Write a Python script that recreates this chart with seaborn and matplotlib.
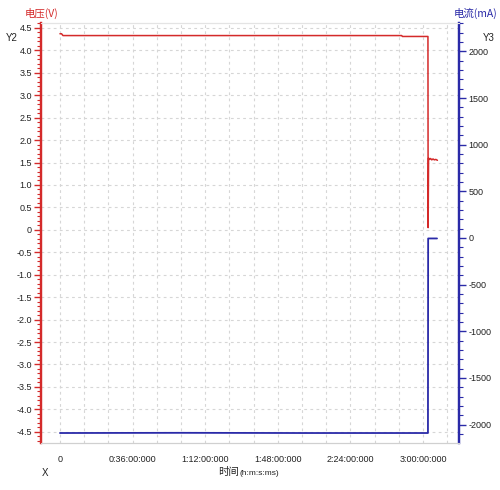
import matplotlib
matplotlib.use("Agg")
import matplotlib.pyplot as plt
import matplotlib.ticker as mticker
import seaborn as sns
import pandas as pd

# ---- data (time in minutes) ----
volt_time = [0, 0.8, 1.5, 169.5, 169.8, 182.5, 182.6, 182.8, 183.3, 183.8, 184.4, 185.0, 185.7, 186.4, 187.2]
volt_vals = [4.37, 4.37, 4.33, 4.33, 4.31, 4.31, 0.05, 1.60, 1.57, 1.59, 1.56, 1.58, 1.56, 1.57, 1.55]
curr_time = [0, 60, 120, 182.5, 182.6, 187.0]
curr_vals = [-2090, -2088, -2090, -2090, -5, -5]
x_tick_vals = [0, 36, 72, 108, 144, 180]
x_tick_labels = ["0", "0:36:00:000", "1:12:00:000", "1:48:00:000", "2:24:00:000", "3:00:00:000"]

RED = "#d42a2a"
BLUE = "#2a2aa8"
GRID = "#d6d6d6"

sns.set_style("white")
plt.rcParams["font.family"] = ["Liberation Sans", "DejaVu Sans"]
plt.rcParams["axes.unicode_minus"] = False
CJK = ["Noto Sans CJK SC", "DejaVu Sans"]

fig = plt.figure(figsize=(5.0, 4.9), dpi=100)
ax = fig.add_axes([41 / 500, 1 - 443 / 490, (459 - 41) / 500, (443 - 23) / 490])
ax2 = ax.twinx()

dv = pd.DataFrame({"t": volt_time, "v": volt_vals})
di = pd.DataFrame({"t": curr_time, "i": curr_vals})
sns.lineplot(data=dv, x="t", y="v", ax=ax, color=RED, lw=1.1, estimator=None, sort=False)
sns.lineplot(data=di, x="t", y="i", ax=ax2, color=BLUE, lw=1.3, estimator=None, sort=False)

ax.set_xlim(-9.4, 197.9)
ax.set_ylim(-4.75, 4.61)
ax2.set_ylim(-2197, 2304)

# x ticks
major_x = list(range(0, 197, 12))
ax.set_xticks(major_x)
lab_map = dict(zip(x_tick_vals, x_tick_labels))
ax.set_xticklabels([lab_map.get(v, "") for v in major_x])
ax.xaxis.set_minor_locator(mticker.MultipleLocator(6))
ax.tick_params(axis="x", which="both", colors="#b0b0b0", labelcolor="#222222",
               direction="out", length=4, width=0.8, labelsize=6.5, pad=5)

# left y ticks
ax.yaxis.set_major_locator(mticker.MultipleLocator(0.5))
ax.yaxis.set_minor_locator(mticker.MultipleLocator(0.1))
ax.yaxis.set_major_formatter(mticker.FuncFormatter(lambda v, p: "0" if abs(v) < 1e-9 else f"{v:.1f}"))
ax.tick_params(axis="y", which="major", colors=RED, labelcolor="#222222", direction="out",
               length=5, width=1.0, labelsize=6.5, pad=1.5)
ax.tick_params(axis="y", which="minor", colors=RED, direction="out", length=3, width=0.8)

# right y ticks
ax2.yaxis.set_major_locator(mticker.MultipleLocator(500))
ax2.yaxis.set_minor_locator(mticker.MultipleLocator(100))
ax2.tick_params(axis="y", which="major", colors=BLUE, labelcolor="#222222", direction="out",
                length=5, width=1.0, labelsize=6.5, pad=2)
ax2.tick_params(axis="y", which="minor", colors=BLUE, direction="out", length=3, width=0.8)

ax.set_xlabel("")
ax.set_ylabel("")
ax2.set_ylabel("")

ax.grid(True, which="major", axis="both", color=GRID, linestyle=(0, (2.5, 3)), linewidth=0.8)
ax.set_axisbelow(True)

for a in (ax, ax2):
    a.spines["top"].set_color("#e4e4e4")
    a.spines["bottom"].set_color("#d0d0d0")
    a.spines["left"].set_color(RED)
    a.spines["right"].set_color(BLUE)
    a.spines["left"].set_linewidth(1.6)
    a.spines["right"].set_linewidth(1.6)

# labels
fig.text(42 / 500, 1 - 13 / 490, "电压(V)", color=RED, fontsize=7.5, family=CJK, ha="center", va="center")
fig.text(12 / 500, 1 - 38 / 490, "Y2", color="#222222", fontsize=7, ha="center", va="center")
fig.text(497 / 500, 1 - 13 / 490, "电流(mA)", color=BLUE, fontsize=7.5, family=CJK, ha="right", va="center")
fig.text(489 / 500, 1 - 38 / 490, "Y3", color="#222222", fontsize=7, ha="center", va="center")
fig.text(45 / 500, 1 - 473 / 490, "X", color="#222222", fontsize=7, ha="center", va="center")
fig.text(239 / 500, 1 - 475 / 490, "时间", color="#222222", fontsize=7.5, family=CJK, ha="right", va="baseline")
fig.text(239 / 500, 1 - 475 / 490, "(h:m:s:ms)", color="#222222", fontsize=6, ha="left", va="baseline")

fig.savefig("out.png", dpi=100)
